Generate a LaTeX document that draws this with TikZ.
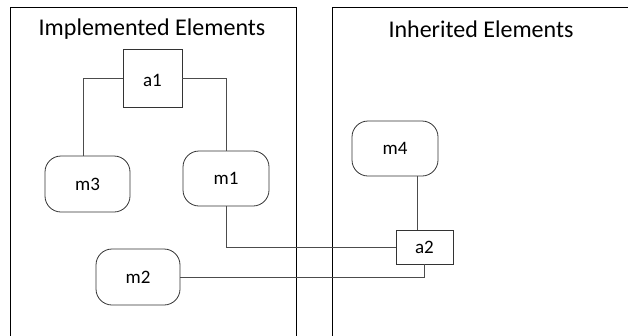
\documentclass[tikz,border=0pt]{standalone}
\usepackage{fontspec}
\setmainfont{Carlito}
\usetikzlibrary{calc}
\begin{document}
\begin{tikzpicture}[x=1pt,y=-1pt,
  frame/.style={line width=1pt,draw=black},
  title/.style={font=\fontsize{24}{26}\selectfont,inner sep=0pt},
  actor/.style={draw=black!80,line width=0.8pt,inner sep=0pt,font=\fontsize{19}{21}\selectfont},
  method/.style={draw=black!80,line width=0.8pt,rounded corners=16pt,inner sep=0pt,font=\fontsize{19}{21}\selectfont},
  link/.style={draw=black!70,line width=0.9pt}]
\useasboundingbox (0,0) rectangle (628,335);
% two open containers, cut off at the bottom and right
\draw[frame] (10,336) -- (10,7) -- (296,7) -- (296,336);
\draw[frame] (332,336) -- (332,7) -- (629,7);
\node[title] (timpl) at (152,29) {Implemented Elements};
\node[title] (tinh) at (481,29) {Inherited Elements};
% elements
\node[actor,minimum width=59pt,minimum height=58pt] (a1) at (152.5,78) {};
\node[font=\fontsize{19}{21}\selectfont,inner sep=0pt] (a1l) at (152.5,80) {a1};
\node[method,minimum width=85pt,minimum height=56pt] (m3) at (87.5,184) {m3};
\node[method,minimum width=86pt,minimum height=55pt] (m1) at (226,178.5) {m1};
\node[method,minimum width=84pt,minimum height=56pt] (m2) at (138,277) {m2};
\node[method,minimum width=86pt,minimum height=55pt] (m4) at (395,148.5) {m4};
\node[actor,minimum width=57pt,minimum height=34pt] (a2) at (424.5,247) {a2};
% connectors
\coordinate (m3top) at ($(m3.north)+(-4.5,0)$);
\coordinate (m4foot) at ($(m4.south)+(22,0)$);
\draw[link] (a1.west) -| (m3top);
\draw[link] (a1.east) -| (m1.north);
\draw[link] (m1.south) |- (a2.west);
\draw[link] (m2.east) -| (a2.south);
\draw[link] (m4foot) -- (m4foot |- a2.north);
\end{tikzpicture}
\end{document}
